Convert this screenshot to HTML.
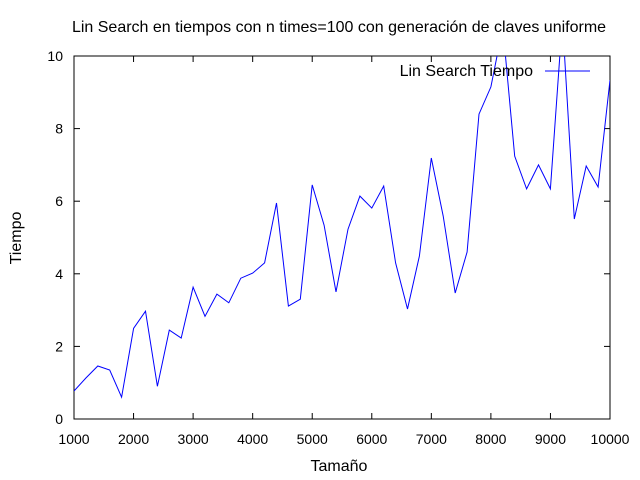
<!DOCTYPE html>
<html><head><meta charset="utf-8"><style>
html,body{margin:0;padding:0;background:#fff;}
svg{display:block;font-family:"Liberation Sans",sans-serif;}
</style></head><body>
<svg id="chart" width="640" height="480">
<defs><clipPath id="clip"><rect x="74" y="56" width="536" height="363"/></clipPath></defs>
<text x="339" y="32" text-anchor="middle" font-size="16">Lin Search en tiempos con n times=100 con generación de claves uniforme</text>
<rect x="74" y="56" width="536" height="363" fill="none" stroke="#000" stroke-width="1"/>
<g id="ticks"></g>
<text x="339" y="471" text-anchor="middle" font-size="16">Tamaño</text>
<text transform="translate(21,238) rotate(-90)" text-anchor="middle" font-size="16">Tiempo</text>
<g id="series" clip-path="url(#clip)"></g>
<g>
<text x="533" y="76" text-anchor="end" font-size="16">Lin Search Tiempo</text>
<line x1="545" y1="71" x2="590" y2="71" stroke="#0000ff"/>
</g>
</svg>
<script>
const sizes = [1000,1200,1400,1600,1800,2000,2200,2400,2600,2800,3000,3200,3400,3600,3800,4000,4200,4400,4600,4800,5000,5200,5400,5600,5800,6000,6200,6400,6600,6800,7000,7200,7400,7600,7800,8000,8200,8400,8600,8800,9000,9200,9400,9600,9800,10000];
const tiempos = [0.77,1.13,1.46,1.35,0.6,2.5,2.97,0.9,2.45,2.23,3.63,2.83,3.44,3.2,3.88,4.02,4.3,5.95,3.11,3.3,6.45,5.34,3.5,5.23,6.14,5.81,6.42,4.3,3.03,4.49,7.19,5.59,3.47,4.6,8.4,9.15,10.8,7.24,6.34,7.0,6.34,11,5.51,6.97,6.39,9.34];
const xTicks = [1000,2000,3000,4000,5000,6000,7000,8000,9000,10000];
const yTicks = [0,2,4,6,8,10];
const X0=74,X1=610,Y0=419,Y1=56;
function sx(v){return X0+(v-1000)/9000*(X1-X0);}
function sy(v){return Y0-v/10*(Y0-Y1);}
const NS="http://www.w3.org/2000/svg";
const tg=document.getElementById('ticks');
function mk(tag,attrs,parent){const e=document.createElementNS(NS,tag);for(const k in attrs)e.setAttribute(k,attrs[k]);parent.appendChild(e);return e;}
xTicks.forEach(t=>{
  const x=sx(t);
  const a=mk('line',{x1:x,y1:Y0,x2:x,y2:Y0-6,stroke:'#000'},tg);
  
  
  const b=mk('line',{x1:x,y1:Y1,x2:x,y2:Y1+6,stroke:'#000'},tg);
  
  
  const l=mk('text',{x:x,y:Y0+25,'text-anchor':'middle','font-size':'14'},tg);
  l.textContent=t;
  
  
});
yTicks.forEach(t=>{
  const y=sy(t);
  const a=mk('line',{x1:X0,y1:y,x2:X0+6,y2:y,stroke:'#000'},tg);
  
  
  const b=mk('line',{x1:X1,y1:y,x2:X1-6,y2:y,stroke:'#000'},tg);
  
  
  const l=mk('text',{x:X0-11,y:y+5,'text-anchor':'end','font-size':'14'},tg);
  l.textContent=t;
  
  
});
const pts=sizes.map((s,i)=>sx(s).toFixed(1)+','+sy(tiempos[i]).toFixed(1)).join(' ');
const pl=mk('polyline',{points:pts,fill:'none',stroke:'#0000ff','stroke-width':'1'},document.getElementById('series'));


</script>
</body></html>
